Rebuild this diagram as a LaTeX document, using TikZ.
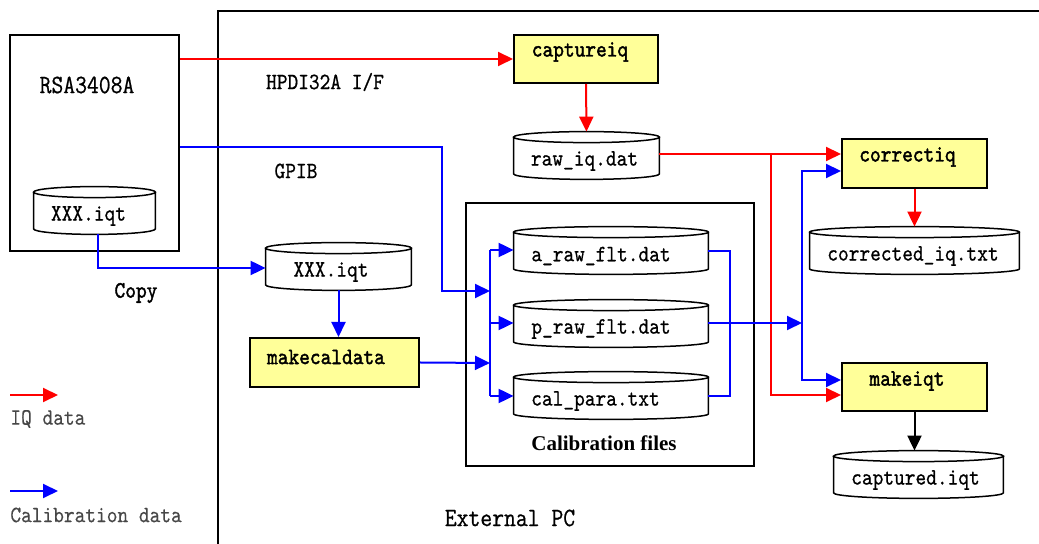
\documentclass[tikz,border=0pt]{standalone}
\usepackage{fontspec}
\usepackage{graphicx}
\usetikzlibrary{arrows.meta,calc}
\newfontfamily\lmm{Latin Modern Mono}[FakeBold=0.7]
\newfontfamily\lmb{Latin Modern Mono}[FakeBold=1.8]
\newfontfamily\lml{Latin Modern Mono}[FakeBold=0.3]
\newfontfamily\serifb{Liberation Serif}
\definecolor{boxyellow}{RGB}{255,255,153}
\newcommand\st[1]{\scalebox{1}[1.15]{#1}}
\newcommand\tx[3]{\raisebox{#2}[\height][\depth]{\st{#3}}\kern#1\relax}
\newcommand\drawcyl[1]{%
  \draw[cylline] let \p1=(#1.west), \p2=(#1.east) in
    ([yshift=2.75pt]#1.north west) -- ([yshift=2.75pt]#1.south west)
    arc[start angle=180, end angle=360, x radius={(\x2-\x1)/2}, y radius=2.75pt]
    -- ([yshift=2.75pt]#1.north east)
    ([yshift=2.75pt]#1.north) ellipse[x radius={(\x2-\x1)/2}, y radius=2.75pt];
}
\begin{document}
\begin{tikzpicture}[x=0.5pt,y=-0.5pt,
  box/.style={draw, line width=1pt, fill=boxyellow, inner sep=0pt,
    minimum width=72.5pt, minimum height=24.5pt,
    font=\lmb\fontsize{10.2}{12}\selectfont},
  frame/.style={draw, line width=1pt, inner sep=0pt},
  cyl/.style={inner sep=0pt, minimum height=18pt,
    font=\lmm\fontsize{10.2}{12}\selectfont},
  cylline/.style={line width=0.75pt},
  lbl/.style={inner sep=0pt, font=\lmm\fontsize{10.2}{12}\selectfont},
  legend/.style={inner sep=0pt, anchor=west, text=black!72,
    font=\lml\fontsize{10.2}{12}\selectfont},
  conn/.style={line width=1pt},
  arr/.style={-{Triangle[length=7.5pt,width=7pt]}},
  rd/.style={conn, red},
  bl/.style={conn, blue}]
\useasboundingbox (0,0) rectangle (1039,544);
% External PC frame
\draw[line width=1pt] (218,560) -- (218,11) -- (1060,11);
\node[inner sep=0pt, font=\lmm\fontsize{11.5}{13}\selectfont] (extpc) at (510,518) {\st{External PC}};

% RSA instrument
\node[frame, minimum width=84.5pt, minimum height=108pt] (rsa) at (94.5,143) {};
\node[lbl, font=\lmm\fontsize{11.5}{13}\selectfont] (rsalbl) at (87,85) {\st{RSA3408A}};
\node[cyl, minimum width=60.5pt] (rsaiqt) at (94.5,216) {\tx{6pt}{0pt}{XXX.iqt}};

% labels
\node[lbl] (hpdi) at (325,82) {\st{HPDI32A I/F}};
\node[lbl] (gpib) at (296,171) {\st{GPIB}};
\node[lbl, font=\lmb\fontsize{10.2}{12}\selectfont] (copy) at (136,293) {\st{Copy}};

% calibration frame
\node[frame, minimum width=144pt, minimum height=131.5pt] (calfr) at (610,334.5) {};
\node[inner sep=0pt, font=\serifb\bfseries\fontsize{10.5}{12}\selectfont] (calt) at (604,443) {Calibration files};

% boxes
\node[box, minimum width=72pt, minimum height=24pt] (capture) at (586,59) {\tx{6pt}{3.5pt}{captureiq}};
\node[box] (correct) at (914.5,163.5) {\tx{7pt}{3.25pt}{correctiq}};
\node[box, minimum height=24pt] (makeiqt) at (914.5,387) {\tx{7.5pt}{3pt}{makeiqt}};
\node[box, minimum width=84.5pt] (makecal) at (334.5,362.5) {\tx{8.5pt}{2.75pt}{makecaldata}};

% cylinders
\node[cyl, minimum width=72.5pt] (xxx2) at (338.5,272) {\tx{7.5pt}{0pt}{XXX.iqt}};
\node[cyl, minimum width=72.5pt] (rawiq) at (586.5,161) {\tx{2pt}{0pt}{raw\_iq.dat}};
\node[cyl, minimum width=97pt] (araw) at (611,256) {\tx{10pt}{0pt}{a\_raw\_flt.dat}};
\node[cyl, minimum width=97pt] (praw) at (611,329) {\tx{10pt}{0pt}{p\_raw\_flt.dat}};
\node[cyl, minimum width=97pt] (calpara) at (611,401) {\tx{15.5pt}{0pt}{cal\_para.txt}};
\node[cyl, minimum width=104.5pt] (corrected) at (914.5,256) {\tx{1.5pt}{0pt}{corrected\_iq.txt}};
\node[cyl, minimum width=84.5pt] (captured) at (918.5,480) {\tx{3pt}{0pt}{captured.iqt}};
\foreach \c in {rsaiqt,xxx2,rawiq,araw,praw,calpara,corrected,captured}{\drawcyl{\c}}

% coordinates
\coordinate (gpc) at (442,291);
\coordinate (bus1) at (490,291);
\coordinate (busT) at (490,250);
\coordinate (busM) at (490,323);
\coordinate (bus2) at (490,363);
\coordinate (busB) at (490,396);
\coordinate (rc) at (730,251);
\coordinate (rb) at (802,323);
\coordinate (rj) at (771,154);

% IQ data (red)
\draw[rd,arr] (rsa.east |- capture.west) -- (capture.west);
\draw[rd,arr] (capture.south) -- ([yshift=5.5pt]rawiq.north);
\draw[rd,arr] ([yshift=3.5pt]rawiq.east) -- ([yshift=3.5pt]rawiq.east -| correct.west);
\draw[rd,arr] (rj) |- ([yshift=-4pt]makeiqt.west);
\draw[rd,arr] (correct.south) -- ([yshift=5.5pt]corrected.north);
\draw[conn,arr] (makeiqt.south) -- ([yshift=5.5pt]makeiqt.south |- captured.north);

% calibration data (blue)
\draw[bl,arr] ([yshift=-2pt]rsa.east) -| (gpc) -- (bus1);
\draw[bl,arr] ([xshift=1.75pt]rsaiqt.south) |- ([yshift=2pt]xxx2.west);
\draw[bl,arr] (xxx2.south) -- (xxx2.south |- makecal.north);
\draw[bl,arr] (makecal.east) -- (bus2);
\draw[bl] (busT) -- (busB);
\draw[bl,arr] (busT) -- (busT -| araw.west);
\draw[bl,arr] (busM) -- (busM -| praw.west);
\draw[bl,arr] (busB) -- (busB -| calpara.west);
\draw[bl] (araw.east |- rc) -- (rc) |- (calpara.east |- busB);
\draw[bl,arr] (praw.east |- busM) -- (rb);
\draw[bl,arr] (rb) |- ([yshift=-3.75pt]correct.west);
\draw[bl,arr] (rb) |- ([yshift=3.5pt]makeiqt.west);

% legend
\coordinate (lgr1) at (10,395);
\coordinate (lgr2) at (58,395);
\coordinate (lgb1) at (10,491);
\coordinate (lgb2) at (58,491);
\draw[rd,arr] (lgr1) -- (lgr2);
\draw[bl,arr] (lgb1) -- (lgb2);
\node[legend] (lgt1) at (10,419) {\st{IQ data}};
\node[legend] (lgt2) at (10,515) {\st{Calibration data}};
\end{tikzpicture}
\end{document}
